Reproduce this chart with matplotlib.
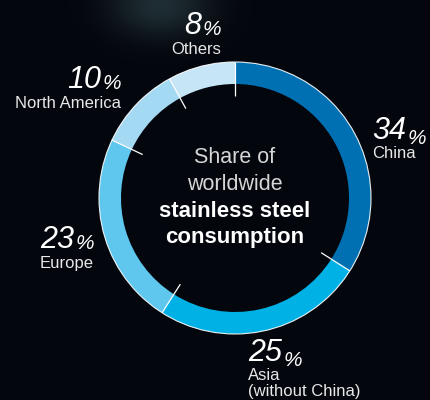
import numpy as np
import matplotlib
matplotlib.use("Agg")
import matplotlib.pyplot as plt
from matplotlib.patches import Circle

# 데이터
regions = ['China', 'Asia\n(without China)', 'Europe', 'North America', 'Others']
shares = [34, 25, 23, 10, 8]
colors = ['#0070b2', '#00b1e5', '#5fc6ed', '#a3d9f2', '#c6e5f6']

# 라벨 위치 (x, y 기준선, 정렬)  -- 이미지 픽셀 기준
label_pos = [(372, 139, 'left'), (248, 361, 'left'), (94, 249, 'right'),
             (121, 89, 'right'), (221, 35, 'right')]

W, H = 431, 400
bg = '#03060c'
plt.rcParams['font.family'] = ['Liberation Sans', 'DejaVu Sans']

fig = plt.figure(figsize=(W / 100, H / 100), dpi=100, facecolor=bg)
ax = fig.add_axes([0, 0, 1, 1])

# 배경 (위쪽 희미한 빛)
yy, xx = np.mgrid[0:H, 0:W]
glow = np.exp(-(((xx - 160) / 50.0) ** 2 + ((yy - 5) / 32.0) ** 2))
base = np.array([3, 6, 12]) / 255.0
tint = np.array([28, 40, 40]) / 255.0
img = base[None, None, :] + glow[..., None] * tint[None, None, :]
ax.imshow(img, extent=[0, W, 0, H], origin='upper', zorder=0)

cx, cy = 235, H - 198
r_out, width = 136, 22
ax.pie(shares, colors=colors, startangle=90, counterclock=False,
       center=(cx, cy), radius=r_out,
       wedgeprops=dict(width=width, linewidth=0), frame=True)
ax.set_xlim(0, W)
ax.set_ylim(0, H)
ax.set_aspect('equal')
ax.axis('off')
ax.add_patch(Circle((cx, cy), r_out, fill=False, ec='white', lw=0.8, alpha=0.9, zorder=3))

# 경계 눈금선
cum = np.cumsum([0] + shares[:-1])
for c in cum:
    ang = np.deg2rad(90 - 360 * c / 100.0)
    r1, r2 = r_out, r_out - width - 12
    ax.plot([cx + r1 * np.cos(ang), cx + r2 * np.cos(ang)],
            [cy + r1 * np.sin(ang), cy + r2 * np.sin(ang)],
            color='white', lw=0.9, zorder=4, solid_capstyle='butt')

# 라벨
for name, val, (x, y, ha) in zip(regions, shares, label_pos):
    y = H - y
    if ha == 'left':
        num = ax.text(x, y, str(val), ha='left', va='baseline', color='white',
                      fontsize=22, style='italic', zorder=5)
        ax.annotate('%', xy=(1, 0), xycoords=num, xytext=(1, -1.8),
                    textcoords='offset points', ha='left', va='bottom',
                    color='white', fontsize=15, style='italic', zorder=5)
    else:
        pct = ax.text(x, y, '%', ha='right', va='baseline', color='white',
                      fontsize=15, style='italic', zorder=5)
        ax.annotate(str(val), xy=(0, 0), xycoords=pct, xytext=(-1, -1.8),
                    textcoords='offset points', ha='right', va='bottom',
                    color='white', fontsize=22, style='italic', zorder=5)
    ax.text(x, y - 7, name, ha=ha, va='top', color='#e8e8e8',
            fontsize=12, linespacing=1.05, zorder=5)

# 가운데 제목
ax.text(cx, H - 163, 'Share of', ha='center', va='baseline', color='#d6d6d6', fontsize=15.5)
ax.text(cx, H - 190, 'worldwide', ha='center', va='baseline', color='#d6d6d6', fontsize=15.5)
ax.text(cx, H - 217, 'stainless steel', ha='center', va='baseline', color='white',
        fontsize=16, fontweight='bold')
ax.text(cx, H - 243, 'consumption', ha='center', va='baseline', color='white',
        fontsize=16, fontweight='bold')

fig.savefig('out.png', dpi=100, facecolor=bg)
